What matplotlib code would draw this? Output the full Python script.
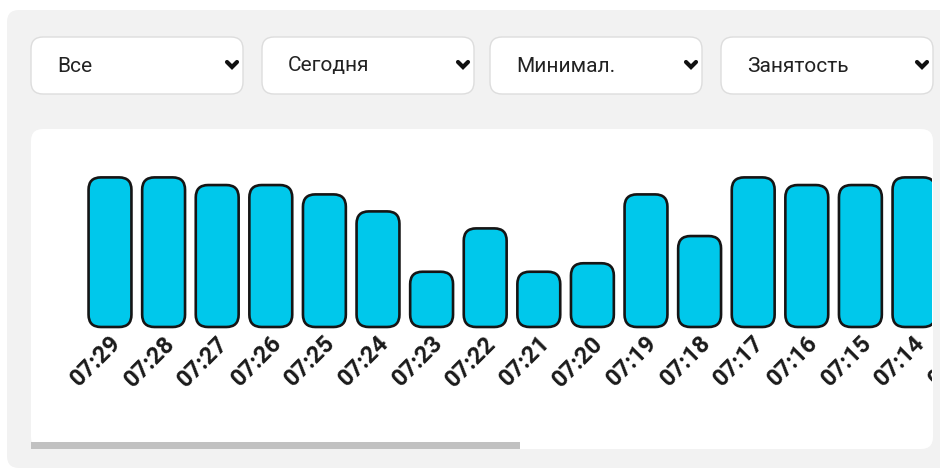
import matplotlib.pyplot as plt
from matplotlib.patches import FancyBboxPatch, Rectangle

# data
times = ["07:29", "07:28", "07:27", "07:26", "07:25", "07:24", "07:23", "07:22",
         "07:21", "07:20", "07:19", "07:18", "07:17", "07:16", "07:15", "07:14", "07:13"]
values = [17.6, 17.6, 16.7, 16.7, 15.6, 13.6, 6.5, 11.6,
          6.5, 7.5, 15.6, 10.7, 17.6, 16.7, 16.7, 17.6, 17.6]
filters = ["Все", "Сегодня", "Минимал.", "Занятость"]

BAR_COLOR = "#00c8eb"
PANEL = "#f2f2f2"

fig = plt.figure(figsize=(9.4, 4.7), dpi=100)
fig.patch.set_facecolor("white")

# UI layer in pixel coordinates
ui = fig.add_axes([0, 0, 1, 1])
ui.set_xlim(0, 940)
ui.set_ylim(470, 0)
ui.axis("off")

# grey panel
ui.add_patch(FancyBboxPatch((7, 10), 960, 458, boxstyle="round,pad=0,rounding_size=12",
                            fc=PANEL, ec="none"))

# dropdown filters
x0s = [31, 262, 490, 721]
for x0, name in zip(x0s, filters):
    ui.add_patch(FancyBboxPatch((x0, 37), 212, 57, boxstyle="round,pad=0,rounding_size=12",
                                fc="white", ec="#dddddd", lw=1))
    ui.text(x0 + 26, 66, name, fontsize=15, family="Roboto", color="#222222",
            va="center", ha="left")
    cx = x0 + 201
    ui.plot([cx - 5, cx, cx + 5], [62, 67, 62], color="#111111", lw=3,
            solid_capstyle="round", solid_joinstyle="miter")

# white card + scrollbar
ui.add_patch(FancyBboxPatch((31, 129), 902, 320, boxstyle="round,pad=0,rounding_size=12",
                            fc="white", ec="none"))
ui.add_patch(Rectangle((31, 442), 489, 7, fc="#c1c1c1", ec="none"))

# chart axes placed over the card
step_px = 53.6      # px per category
unit_px = 8.5       # px per value unit
first_px = 110      # centre of first bar
base_px = 327       # bar baseline
card_l, card_r, card_t, card_b = 31, 932, 129, 449

ax = fig.add_axes([card_l / 940, (470 - card_b) / 470,
                   (card_r - card_l) / 940, (card_b - card_t) / 470])
ax.set_xlim(-(first_px - card_l) / step_px, (card_r - first_px) / step_px)
ax.set_ylim(-(card_b - base_px) / unit_px, (base_px - card_t) / unit_px)
ax.axis("off")
ax.patch.set_alpha(0)

width = 0.8
aspect = step_px / unit_px
for i, (t, v) in enumerate(zip(times, values)):
    bar = FancyBboxPatch((i - width / 2, 0), width, v,
                         boxstyle="round,pad=0,rounding_size=0.23",
                         mutation_aspect=aspect,
                         fc=BAR_COLOR, ec="#151515", lw=1.9)
    ax.add_patch(bar)
    ax.text(i + 0.14, -1.5, t, rotation=45, rotation_mode="anchor",
            ha="right", va="center", fontsize=17, family="Roboto",
            fontweight="bold", color="#1a1a1a", clip_on=True)

fig.savefig("out.png", dpi=100)
